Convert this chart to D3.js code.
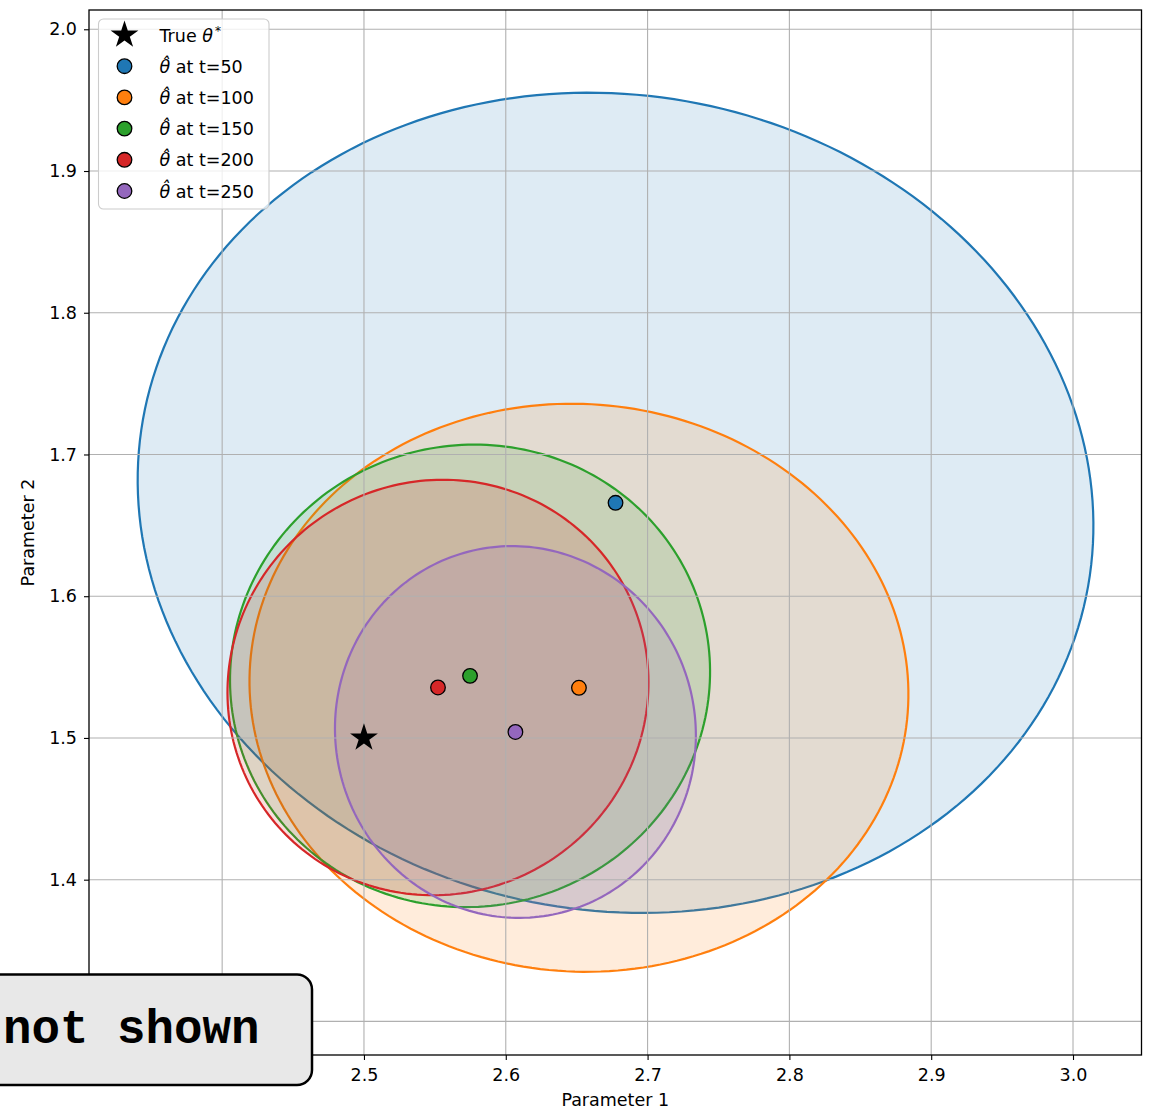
<!DOCTYPE html>
<html>
<head>
<meta charset="utf-8">
<script src="https://cdn.jsdelivr.net/npm/d3@7"></script>
<style>
  body { margin: 0; background: #fff; }
</style>
</head>
<body>
<div id="chart"></div>
<script>
// estimates at each step
var stepLabels = ["t=50", "t=100", "t=150", "t=200", "t=250"];
var estX = [2.6774, 2.6516, 2.5748, 2.5522, 2.6068];
var estY = [1.6659, 1.5354, 1.5438, 1.5356, 1.5042];
// confidence ellipses: semi-axes and rotation (degrees)
var semiA = [0.3384, 0.2325, 0.1696, 0.1495, 0.1269];
var semiB = [0.2877, 0.2002, 0.1628, 0.1455, 0.1315];
var angleDeg = [-10, -4.3, 13, 31, 16];
var trueTheta = [2.5, 1.5];

var colors = ["#1f77b4", "#ff7f0e", "#2ca02c", "#d62728", "#9467bd"];
var xTicks = [2.4, 2.5, 2.6, 2.7, 2.8, 2.9, 3.0];
var yTicks = [1.3, 1.4, 1.5, 1.6, 1.7, 1.8, 1.9, 2.0];
// tick labels hidden under the overlay box
var hiddenX = [2.4];
var hiddenY = [1.3];

var font = "'DejaVu Sans', sans-serif";

var svg = d3.select("#chart").append("svg")
  .attr("width", 1154)
  .attr("height", 1111);

var margin = {top: 10, right: 12.5, bottom: 56, left: 89};
var width = +svg.attr("width") - margin.left - margin.right;
var height = +svg.attr("height") - margin.top - margin.bottom;
var g = svg.append("g").attr("transform", "translate(" + margin.left + "," + margin.top + ")");

var x = d3.scaleLinear().domain([2.3061, 3.0483]).range([0, width]);
var y = d3.scaleLinear().domain([1.2763, 2.0136]).range([height, 0]);

g.append("defs").append("clipPath").attr("id", "clip")
  .append("rect").attr("width", width).attr("height", height);

var plot = g.append("g").attr("clip-path", "url(#clip)");

// ellipse outline in data space, then through the scales
function ellipsePoints(i) {
  var pts = [];
  var phi = angleDeg[i] * Math.PI / 180;
  for (var k = 0; k < 240; k++) {
    var t = 2 * Math.PI * k / 240;
    var ex = semiA[i] * Math.cos(t), ey = semiB[i] * Math.sin(t);
    pts.push([estX[i] + ex * Math.cos(phi) - ey * Math.sin(phi),
              estY[i] + ex * Math.sin(phi) + ey * Math.cos(phi)]);
  }
  return pts;
}
var line = d3.line()
  .x(function(d) { return x(d[0]); })
  .y(function(d) { return y(d[1]); })
  .curve(d3.curveLinearClosed);

stepLabels.forEach(function(lbl, i) {
  plot.append("path")
    .attr("d", line(ellipsePoints(i)))
    .attr("fill", colors[i])
    .attr("fill-opacity", 0.15)
    .attr("stroke", colors[i])
    .attr("stroke-width", 2.2);
});

// grid
plot.append("g").selectAll("line").data(xTicks).join("line")
  .attr("x1", d => x(d)).attr("x2", d => x(d))
  .attr("y1", 0).attr("y2", height)
  .attr("stroke", "#b0b0b0").attr("stroke-width", 1.1);
plot.append("g").selectAll("line").data(yTicks).join("line")
  .attr("y1", d => y(d)).attr("y2", d => y(d))
  .attr("x1", 0).attr("x2", width)
  .attr("stroke", "#b0b0b0").attr("stroke-width", 1.1);

// points
plot.append("path")
  .attr("d", d3.symbol(d3.symbolStar, 240)())
  .attr("transform", "translate(" + x(trueTheta[0]) + "," + y(trueTheta[1]) + ")")
  .attr("fill", "black");

plot.selectAll("circle.est").data(stepLabels).join("circle")
  .attr("class", "est")
  .attr("cx", (d, i) => x(estX[i]))
  .attr("cy", (d, i) => y(estY[i]))
  .attr("r", 7.3)
  .attr("fill", (d, i) => colors[i])
  .attr("stroke", "black")
  .attr("stroke-width", 1.3);

// axes
var fmt = d3.format(".1f");
var xAxis = d3.axisBottom(x).tickValues(xTicks)
  .tickFormat(d => hiddenX.indexOf(d) >= 0 ? "" : fmt(d))
  .tickSize(5).tickPadding(9);
var gx = g.append("g").attr("transform", "translate(0," + height + ")").call(xAxis);
var yAxis = d3.axisLeft(y).tickValues(yTicks)
  .tickFormat(d => hiddenY.indexOf(d) >= 0 ? "" : fmt(d))
  .tickSize(5).tickPadding(7);
var gy = g.append("g").call(yAxis);
[gx, gy].forEach(function(a) {
  a.select(".domain").remove();
  a.selectAll("text").style("font-size", "17.5px").style("font-family", font).attr("fill", "#000");
  a.selectAll("line").attr("stroke", "#000").attr("stroke-width", 1.1);
});

g.append("rect")
  .attr("width", width).attr("height", height)
  .attr("fill", "none").attr("stroke", "#000").attr("stroke-width", 1.3);

g.append("text")
  .attr("x", width / 2).attr("y", height + 51)
  .attr("text-anchor", "middle")
  .style("font-size", "17.5px").style("font-family", font)
  .text("Parameter 1");
g.append("text")
  .attr("transform", "translate(" + (-55) + "," + (height / 2) + ") rotate(-90)")
  .attr("text-anchor", "middle")
  .style("font-size", "17.5px").style("font-family", font)
  .text("Parameter 2");

// legend
var leg = g.append("g").attr("transform", "translate(9.5,9)");
leg.append("rect")
  .attr("width", 170.5).attr("height", 190)
  .attr("rx", 5)
  .attr("fill", "white").attr("fill-opacity", 0.8)
  .attr("stroke", "#cccccc").attr("stroke-width", 1.1);

var rowY = function(k) { return 16 + k * 31.2; };
leg.append("path")
  .attr("d", d3.symbol(d3.symbolStar, 240)())
  .attr("transform", "translate(26," + rowY(0) + ")")
  .attr("fill", "black");
var t0 = leg.append("text").attr("x", 61).attr("y", rowY(0) + 6.5)
  .style("font-size", "17.5px").style("font-family", font);
t0.append("tspan").text("True ");
t0.append("tspan").style("font-style", "italic").text("\u03b8");
t0.append("tspan").style("font-size", "12px").attr("dy", -7).attr("dx", 2).text("*");

stepLabels.forEach(function(lbl, i) {
  var ry = rowY(i + 1);
  leg.append("circle")
    .attr("cx", 26).attr("cy", ry).attr("r", 7.3)
    .attr("fill", colors[i]).attr("stroke", "black").attr("stroke-width", 1.3);
  var t = leg.append("text").attr("x", 61).attr("y", ry + 6.5)
    .style("font-size", "17.5px").style("font-family", font);
  t.append("tspan").style("font-style", "italic").text("\u03b8\u0302");
  t.append("tspan").text(" at " + lbl);
});

// overlay box
svg.append("rect")
  .attr("x", -20).attr("y", 974.5)
  .attr("width", 332).attr("height", 110.5)
  .attr("rx", 15)
  .attr("fill", "#e8e8e8").attr("stroke", "#000").attr("stroke-width", 2.5);
svg.append("text")
  .attr("x", 3).attr("y", 1043)
  .style("font-family", "'Courier New', 'Nimbus Mono PS', 'Nimbus Mono L', FreeMono, 'Liberation Mono', monospace")
  .style("font-weight", "bold").style("font-size", "47.5px")
  .text("not shown");
</script>
</body>
</html>
